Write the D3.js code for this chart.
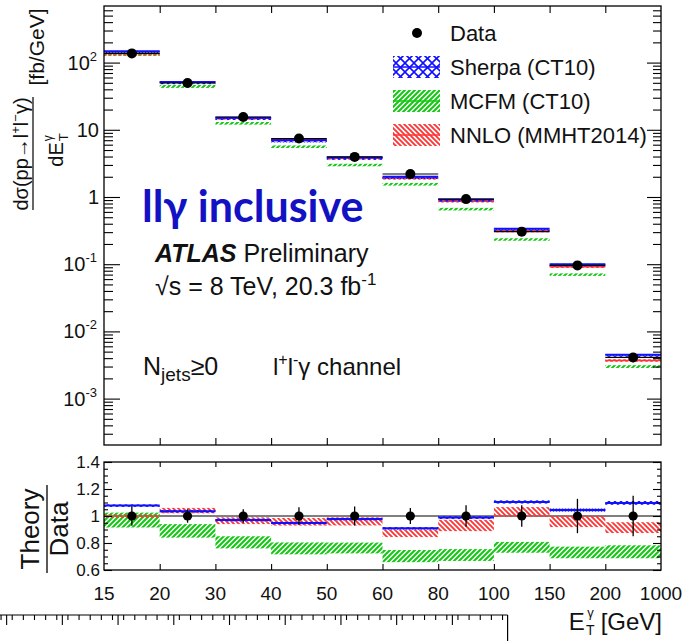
<!DOCTYPE html>
<html>
<head>
<meta charset="utf-8">
<script src="https://cdn.jsdelivr.net/npm/d3@7"></script>
<style>
body { margin: 0; background: #fff; }
text { font-family: "Liberation Sans", Arial, Helvetica, sans-serif; fill: #111; }
</style>
</head>
<body>
<div id="chart"></div>
<script>
// bin edges of E_T (GeV), bins drawn with equal width
var binLabels = ["15", "20", "30", "40", "50", "60", "80", "100", "150", "200", "1000"];

// main panel: dsigma/dE_T [fb/GeV]
var dataVal   = [137, 49.7, 15.5, 7.4, 3.95, 2.2, 0.93, 0.305, 0.096, 0.0041];
var sherpaVal = [148, 51.5, 15.1, 7.0, 3.86, 2.0, 0.92, 0.337, 0.100, 0.0045];
var mcfmVal   = [133, 44.2, 12.5, 5.6, 3.0, 1.55, 0.66, 0.234, 0.070, 0.0030];
var nnloVal   = [137, 51.7, 15.0, 7.1, 3.8, 1.92, 0.865, 0.314, 0.092, 0.0037];

// relative uncertainties
var dataErr   = [0.073, 0.05, 0.05, 0.065, 0.07, 0.06, 0.08, 0.08, 0.127, 0.15];
var sherpaErr = [0.008, 0.008, 0.008, 0.008, 0.008, 0.008, 0.01, 0.012, 0.012, 0.014];
var mcfmErr   = [0.055, 0.05, 0.045, 0.044, 0.04, 0.045, 0.044, 0.04, 0.043, 0.048];
var nnloErr   = [0.012, 0.02, 0.025, 0.028, 0.03, 0.028, 0.042, 0.036, 0.042, 0.04];

// ratio panel: theory / data
var sherpaRatio = [1.078, 1.036, 0.971, 0.949, 0.978, 0.91, 0.988, 1.104, 1.044, 1.097];
var mcfmRatio   = [0.97, 0.89, 0.805, 0.76, 0.763, 0.703, 0.711, 0.768, 0.73, 0.735];
var nnloRatio   = [0.998, 1.04, 0.965, 0.957, 0.96, 0.872, 0.93, 1.03, 0.96, 0.914];

var yMajor = [1e-3, 1e-2, 1e-1, 1, 10, 100];
var yExp   = [-3, -2, -1, 0, 1, 2];
var rMajor = [0.6, 0.8, 1, 1.2, 1.4];
var rLabels = ["0.6", "0.8", "1", "1.2", "1.4"];
var legendLabels = ["Data", "Sherpa (CT10)", "MCFM (CT10)", "NNLO (MMHT2014)"];

var blue = "#1010ff", red = "#ff3535", green = "#14c814";

var svg = d3.select("#chart").append("svg")
    .attr("width", 688)
    .attr("height", 641);

var left = 104, right = 661;
var mainTop = 6, mainBot = 445, ratTop = 462, ratBot = 570;

var x = d3.scaleLinear().domain([0, binLabels.length - 1]).range([left, right]);
var y = d3.scaleLog().domain([2.04e-4, 695]).range([mainBot, mainTop]);
var yr = d3.scaleLinear().domain([0.6, 1.4]).range([ratBot, ratTop]);

// hatch patterns
var defs = svg.append("defs");
function hatch(id, color, dirs, w, s) {
  var p = defs.append("pattern").attr("id", id)
      .attr("patternUnits", "userSpaceOnUse").attr("width", s).attr("height", s);
  if (dirs.indexOf("/") >= 0)
    p.append("path").attr("d", "M-1,1 l2,-2 M0," + s + " l" + s + ",-" + s + " M" + (s - 1) + "," + (s + 1) + " l2,-2")
      .attr("stroke", color).attr("stroke-width", w);
  if (dirs.indexOf("\\") >= 0)
    p.append("path").attr("d", "M-1," + (s - 1) + " l2,2 M0,0 l" + s + "," + s + " M" + (s - 1) + ",-1 l2,2")
      .attr("stroke", color).attr("stroke-width", w);
}
hatch("hGreen", green, "/", 2.1, 5);
hatch("hRed", red, "\\", 1.9, 5);
hatch("hBlue", blue, "/\\", 1.1, 6);
hatch("hBlueLeg", blue, "/\\", 1.6, 9);

var bins = d3.range(dataVal.length);

// ---------- main panel ----------
var main = svg.append("g");

function bands(g, vals, errs, yScale, fill, ratio) {
  g.append("g").selectAll("rect").data(bins).enter().append("rect")
    .attr("x", function(i) { return x(i); })
    .attr("width", function(i) { return x(i + 1) - x(i); })
    .attr("y", function(i) { return yScale(ratio ? vals[i] + errs[i] : vals[i] * (1 + errs[i])); })
    .attr("height", function(i) {
      var a = ratio ? vals[i] + errs[i] : vals[i] * (1 + errs[i]);
      var b = ratio ? vals[i] - errs[i] : vals[i] * (1 - errs[i]);
      return Math.max(yScale(b) - yScale(a), 2.5);
    })
    .attr("fill", fill);
}
function steps(g, vals, yScale, color, w) {
  g.append("g").selectAll("line").data(bins).enter().append("line")
    .attr("x1", function(i) { return x(i); })
    .attr("x2", function(i) { return x(i + 1); })
    .attr("y1", function(i) { return yScale(vals[i]); })
    .attr("y2", function(i) { return yScale(vals[i]); })
    .attr("stroke", color).attr("stroke-width", w);
}

bands(main, mcfmVal, mcfmErr, y, "url(#hGreen)", false);
bands(main, nnloVal, nnloErr, y, "url(#hRed)", false);
steps(main, nnloVal, y, red, 1.5);
bands(main, sherpaVal, sherpaErr, y, "url(#hBlue)", false);
steps(main, sherpaVal, y, blue, 2);
steps(main, dataVal, y, "#000", 1.2);

main.append("g").selectAll("line").data(bins).enter().append("line")
  .attr("x1", function(i) { return (x(i) + x(i + 1)) / 2; })
  .attr("x2", function(i) { return (x(i) + x(i + 1)) / 2; })
  .attr("y1", function(i) { return y(dataVal[i] * (1 + dataErr[i])); })
  .attr("y2", function(i) { return y(dataVal[i] * (1 - dataErr[i])); })
  .attr("stroke", "#000").attr("stroke-width", 1.5);
main.append("g").selectAll("circle").data(bins).enter().append("circle")
  .attr("cx", function(i) { return (x(i) + x(i + 1)) / 2; })
  .attr("cy", function(i) { return y(dataVal[i]); })
  .attr("r", 5)
  .attr("fill", "#000");

// frame + ticks
main.append("rect").attr("x", left).attr("y", mainTop)
  .attr("width", right - left).attr("height", mainBot - mainTop)
  .attr("fill", "none").attr("stroke", "#000").attr("stroke-width", 1.3);

var yMinor = [];
yExp.concat([-4]).forEach(function(e) {
  d3.range(2, 10).forEach(function(k) {
    var v = k * Math.pow(10, e);
    if (v > y.domain()[0] && v < y.domain()[1]) yMinor.push(v);
  });
});

function tickAxis(axis, tx, ty) {
  var g = svg.append("g").attr("transform", "translate(" + tx + "," + ty + ")").call(axis);
  g.select(".domain").remove();
  g.selectAll("line").attr("stroke", "#000").attr("stroke-width", 1.1);
  g.selectAll("text").remove();
  return g;
}
tickAxis(d3.axisRight(y).tickValues(yMajor).tickSize(16), left, 0);
tickAxis(d3.axisRight(y).tickValues(yMinor).tickSize(9), left, 0);
tickAxis(d3.axisLeft(y).tickValues(yMajor).tickSize(14), right, 0);
tickAxis(d3.axisLeft(y).tickValues(yMinor).tickSize(8), right, 0);

var inner = d3.range(1, binLabels.length - 1);
tickAxis(d3.axisBottom(x).tickValues(inner).tickSize(7), 0, mainTop);
tickAxis(d3.axisTop(x).tickValues(inner).tickSize(7), 0, mainBot);

// log labels
var yl = svg.append("g").selectAll("text").data(yMajor).enter().append("text")
  .attr("x", function(v, i) { return yExp[i] >= 2 || yExp[i] < 0 ? 97 : 99; })
  .attr("y", function(v) { return y(v) + 7; })
  .attr("text-anchor", "end")
  .style("font-size", "20px");
yl.each(function(v, i) {
  var t = d3.select(this), e = yExp[i];
  if (e === 0) { t.text("1"); return; }
  if (e === 1) { t.text("10"); return; }
  t.append("tspan").text("10");
  t.append("tspan").attr("dy", -9).style("font-size", "13px").text(e < 0 ? "-" + (-e) : e);
});

// ---------- ratio panel ----------
var rat = svg.append("g");
rat.append("line").attr("x1", left).attr("x2", right)
  .attr("y1", yr(1)).attr("y2", yr(1)).attr("stroke", "#000").attr("stroke-width", 1);
bands(rat, mcfmRatio, mcfmErr, yr, "url(#hGreen)", true);
bands(rat, nnloRatio, nnloErr, yr, "url(#hRed)", true);
bands(rat, sherpaRatio, sherpaErr, yr, "url(#hBlue)", true);
steps(rat, sherpaRatio, yr, blue, 2);

rat.append("g").selectAll("line").data(bins).enter().append("line")
  .attr("x1", function(i) { return (x(i) + x(i + 1)) / 2; })
  .attr("x2", function(i) { return (x(i) + x(i + 1)) / 2; })
  .attr("y1", function(i) { return yr(1 + dataErr[i]); })
  .attr("y2", function(i) { return yr(1 - dataErr[i]); })
  .attr("stroke", "#000").attr("stroke-width", 1.3);
rat.append("g").selectAll("circle").data(bins).enter().append("circle")
  .attr("cx", function(i) { return (x(i) + x(i + 1)) / 2; })
  .attr("cy", yr(1))
  .attr("r", 4.6)
  .attr("fill", "#000");

rat.append("rect").attr("x", left).attr("y", ratTop)
  .attr("width", right - left).attr("height", ratBot - ratTop)
  .attr("fill", "none").attr("stroke", "#000").attr("stroke-width", 1.3);

var rMinor = d3.range(0.65, 1.4, 0.05).filter(function(v) {
  return Math.abs(v * 5 - Math.round(v * 5)) > 0.01;
});
tickAxis(d3.axisRight(yr).tickValues(rMajor).tickSize(8), left, 0);
tickAxis(d3.axisRight(yr).tickValues(rMinor).tickSize(4), left, 0);
tickAxis(d3.axisLeft(yr).tickValues(rMajor).tickSize(8), right, 0);
tickAxis(d3.axisLeft(yr).tickValues(rMinor).tickSize(4), right, 0);
tickAxis(d3.axisBottom(x).tickValues(inner).tickSize(5), 0, ratTop);
tickAxis(d3.axisTop(x).tickValues(inner).tickSize(6), 0, ratBot);

svg.append("g").selectAll("text").data(rMajor).enter().append("text")
  .attr("x", 100)
  .attr("y", function(v) { return yr(v) + 6; })
  .attr("text-anchor", "end")
  .style("font-size", "17px")
  .text(function(v, i) { return rLabels[i]; });

svg.append("g").selectAll("text").data(binLabels).enter().append("text")
  .attr("x", function(d, i) { return x(i); })
  .attr("y", 600)
  .attr("text-anchor", "middle")
  .style("font-size", "19px")
  .text(function(d) { return d; });

// ---------- axis titles ----------
var yt = svg.append("g").attr("transform", "rotate(-90)");
var num = yt.append("text").attr("x", -154).attr("y", 28)
  .attr("text-anchor", "middle").style("font-size", "20px");
num.append("tspan").text("dσ(pp→l");
num.append("tspan").attr("dy", -8).style("font-size", "13px").text("+");
num.append("tspan").attr("dy", 8).text("l");
num.append("tspan").attr("dy", -8).style("font-size", "13px").text("−");
num.append("tspan").attr("dy", 8).text("γ)");
svg.append("line").attr("x1", 33).attr("x2", 33).attr("y1", 97).attr("y2", 210)
  .attr("stroke", "#000").attr("stroke-width", 1.2);
var den = yt.append("text").attr("y", 63).style("font-size", "20px").text("dE");
var dl = den.node().getComputedTextLength();
var d0 = -150 - (dl + 9) / 2;
den.attr("x", d0);
yt.append("text").attr("x", d0 + dl + 1).attr("y", 52).style("font-size", "12px").text("γ");
yt.append("text").attr("x", d0 + dl + 1).attr("y", 68).style("font-size", "13px").text("T");
yt.append("text").attr("x", -47).attr("y", 44).attr("text-anchor", "middle")
  .style("font-size", "21px").text("[fb/GeV]");

yt.append("text").attr("x", -529).attr("y", 39).attr("text-anchor", "middle")
  .style("font-size", "26px").text("Theory");
svg.append("line").attr("x1", 47).attr("x2", 47).attr("y1", 485).attr("y2", 573)
  .attr("stroke", "#000").attr("stroke-width", 1.3);
yt.append("text").attr("x", -529).attr("y", 68).attr("text-anchor", "middle")
  .style("font-size", "26px").text("Data");

var xt = svg.append("text").attr("x", 662).attr("y", 630)
  .attr("text-anchor", "end").style("font-size", "24px").text("[GeV]");
var xtl = xt.node().getComputedTextLength();
svg.append("text").attr("x", 662 - xtl - 6).attr("y", 635).attr("text-anchor", "end")
  .style("font-size", "14px").text("T");
svg.append("text").attr("x", 662 - xtl - 7).attr("y", 617).attr("text-anchor", "end")
  .style("font-size", "13px").text("γ");
svg.append("text").attr("x", 662 - xtl - 16).attr("y", 630).attr("text-anchor", "end")
  .style("font-size", "24px").text("E");

// ---------- legend ----------
var lg = svg.append("g");
var legFill = [null, "url(#hBlueLeg)", "url(#hGreen)", "url(#hRed)"];
var legLine = [null, blue, green, red];
legendLabels.forEach(function(lab, i) {
  var cy = 33 + 34 * i;
  if (i === 0) {
    lg.append("circle").attr("cx", 417).attr("cy", cy).attr("r", 5).attr("fill", "#000");
  } else {
    lg.append("rect").attr("x", 393).attr("y", cy - 11).attr("width", 47).attr("height", 22)
      .attr("fill", legFill[i]);
    lg.append("line").attr("x1", 393).attr("x2", 440).attr("y1", cy).attr("y2", cy)
      .attr("stroke", legLine[i]).attr("stroke-width", 1.5);
  }
  lg.append("text").attr("x", 450).attr("y", cy + 8).style("font-size", "22px").text(lab);
});

// ---------- annotations ----------
svg.append("text").attr("x", 142).attr("y", 222)
  .style("font-family", "Lato, 'Open Sans', sans-serif")
  .style("font-weight", "bold").style("font-size", "43px")
  .style("fill", "#1212c4").text("llγ inclusive");

var at = svg.append("text").attr("x", 155).attr("y", 262).style("font-size", "25px");
at.append("tspan").style("font-weight", "bold").style("font-style", "italic").text("ATLAS");
at.append("tspan").text(" Preliminary");

var sq = svg.append("text").attr("x", 155).attr("y", 295).style("font-size", "25px");
sq.append("tspan").text("√s = 8 TeV, 20.3 fb");
sq.append("tspan").attr("dy", -10).style("font-size", "17px").text("-1");

var nj = svg.append("text").attr("x", 143).attr("y", 375).style("font-size", "25px");
nj.append("tspan").text("N");
nj.append("tspan").attr("dy", 6).style("font-size", "19px").text("jets");
nj.append("tspan").attr("dy", -6).text("≥0");
var ch = svg.append("text").attr("x", 273).attr("y", 375).style("font-size", "24px");
ch.append("tspan").text("l");
ch.append("tspan").attr("dy", -10).style("font-size", "16px").text("+");
ch.append("tspan").attr("dy", 10).text("l");
ch.append("tspan").attr("dy", -10).style("font-size", "16px").text("-");
ch.append("tspan").attr("dy", 10).text("γ channel");

// ---------- frame edge of the next figure below ----------
var xs = d3.scaleLinear().domain([-1.11, 8]).range([0, 507.6]);
var sMajor = d3.range(-1, 9);
var sMinor = d3.range(-1.1, 8, 0.2).filter(function(v) {
  return Math.abs(v - Math.round(v)) > 0.05;
});
svg.append("line").attr("x1", xs(-1.11)).attr("x2", xs(8)).attr("y1", 615).attr("y2", 615)
  .attr("stroke", "#000").attr("stroke-width", 1.2);
svg.append("line").attr("x1", xs(8)).attr("x2", xs(8)).attr("y1", 615).attr("y2", 641)
  .attr("stroke", "#000").attr("stroke-width", 1.2);
tickAxis(d3.axisBottom(xs).tickValues(sMajor.slice(0, -1)).tickSize(10), 0, 615);
tickAxis(d3.axisBottom(xs).tickValues(sMinor).tickSize(5), 0, 615);
</script>
</body>
</html>
